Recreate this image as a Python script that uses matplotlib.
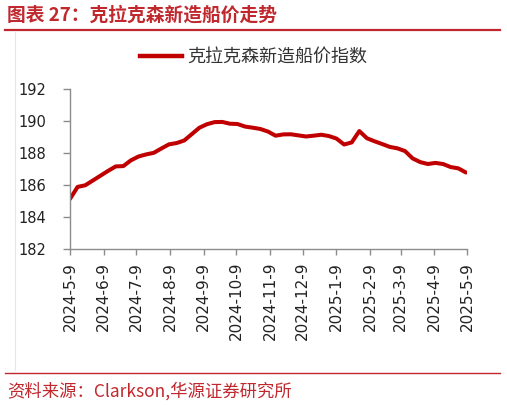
import matplotlib
matplotlib.use("Agg")
import matplotlib.pyplot as plt
from matplotlib.lines import Line2D
import pandas as pd

plt.rcParams['font.family'] = ['Noto Sans CJK SC', 'DejaVu Sans']

# ---- data ----
start_date = "2024-05-09"
n_weeks = 53
index_values = [
    185.15, 185.9, 186.0, 186.3, 186.6, 186.9, 187.18, 187.2, 187.56, 187.8,
    187.93, 188.03, 188.3, 188.56, 188.64, 188.8, 189.2, 189.6, 189.82, 189.95,
    189.96, 189.85, 189.83, 189.67, 189.6, 189.52, 189.36, 189.1, 189.18, 189.19,
    189.12, 189.05, 189.1, 189.16, 189.08, 188.92, 188.55, 188.68, 189.39, 188.94,
    188.75, 188.58, 188.4, 188.31, 188.14, 187.68, 187.45, 187.33, 187.4, 187.33,
    187.14, 187.06, 186.8,
]
tick_dates = ["2024-05-09", "2024-06-09", "2024-07-09", "2024-08-09", "2024-09-09",
              "2024-10-09", "2024-11-09", "2024-12-09", "2025-01-09", "2025-02-09",
              "2025-03-09", "2025-04-09", "2025-05-09"]
tick_labels = ["2024-5-9", "2024-6-9", "2024-7-9", "2024-8-9", "2024-9-9",
               "2024-10-9", "2024-11-9", "2024-12-9", "2025-1-9", "2025-2-9",
               "2025-3-9", "2025-4-9", "2025-5-9"]
y_ticks = [182, 184, 186, 188, 190, 192]
series_name = "克拉克森新造船价指数"
title_text = "图表 27：克拉克森新造船价走势"
source_text = "资料来源：Clarkson,华源证券研究所"

dates = pd.date_range(start_date, periods=n_weeks, freq="7D")

W, H = 507, 405
fig = plt.figure(figsize=(W / 100, H / 100), dpi=100)
fig.patch.set_facecolor("white")

RED = "#C0282E"
LINE_RED = "#C00000"
GREY = "#8C8C8C"

ax = fig.add_axes([70 / W, 1 - 249.3 / H, (467 - 70) / W, (249.3 - 89.3) / H])
ax.plot(dates, index_values, color=LINE_RED, linewidth=2.9, solid_joinstyle="round",
        solid_capstyle="round", label=series_name)

ax.set_xlim(pd.Timestamp(tick_dates[0]), pd.Timestamp(tick_dates[-1]))
ax.set_ylim(y_ticks[0], y_ticks[-1])
ax.set_yticks(y_ticks)
ax.set_xticks([pd.Timestamp(d) for d in tick_dates])
ax.set_xticklabels(tick_labels, rotation=90, family=["DejaVu Sans"], fontsize=11)
for lab in ax.get_yticklabels():
    lab.set_family(["DejaVu Sans"])
    lab.set_fontsize(10.5)

for s in ["top", "right"]:
    ax.spines[s].set_visible(False)
for s in ["left", "bottom"]:
    ax.spines[s].set_color(GREY)
    ax.spines[s].set_linewidth(1.0)
ax.tick_params(axis="y", direction="out", length=5, width=1.0, color=GREY,
               pad=12, labelcolor="#222222")
ax.tick_params(axis="x", direction="out", length=4, width=1.0, color=GREY,
               pad=5, labelcolor="#222222")

# legend
fig.legend(handles=[Line2D([0], [0], color=LINE_RED, linewidth=3.2)],
           labels=[series_name], loc="center left",
           bbox_to_anchor=(140 / W, 1 - 57 / H), frameon=False,
           borderpad=0, borderaxespad=0, handlelength=2.3, handletextpad=0.3,
           prop={"family": ["Noto Sans CJK SC"], "size": 13},
           labelcolor="#333333")

# title and decoration
fig.text(7 / W, 1 - 15 / H, title_text, color=RED, fontsize=13.5,
         fontweight="bold", ha="left", va="center")
fig.add_artist(Line2D([5 / W, 500 / W], [1 - 30 / H, 1 - 30 / H], color=RED,
                      linewidth=1.6))
fig.add_artist(Line2D([15 / W, 15 / W], [1 - 32 / H, 1 - 370 / H],
                      color="#E6E6E6", linewidth=0.8))
fig.add_artist(Line2D([5 / W, 500 / W], [1 - 372.7 / H, 1 - 372.7 / H],
                      color=RED, linewidth=1.0))
fig.text(7 / W, 1 - 391 / H, source_text, color=RED, fontsize=12.5,
         ha="left", va="center")

fig.savefig("out.png", dpi=100, facecolor="white")
